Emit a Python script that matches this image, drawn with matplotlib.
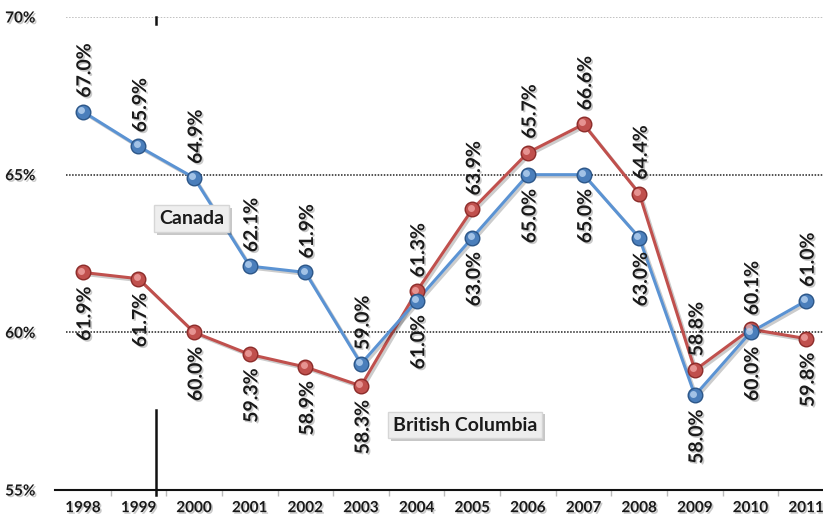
import matplotlib.pyplot as plt
import matplotlib.patheffects as pe
import matplotlib.transforms as mtransforms

plt.rcParams['font.family'] = ['Lato', 'DejaVu Sans']

years = ['1998', '1999', '2000', '2001', '2002', '2003', '2004',
         '2005', '2006', '2007', '2008', '2009', '2010', '2011']
canada = [67.0, 65.9, 64.9, 62.1, 61.9, 59.0, 61.0, 63.0, 65.0, 65.0, 63.0, 58.0, 60.0, 61.0]
bc = [61.9, 61.7, 60.0, 59.3, 58.9, 58.3, 61.3, 63.9, 65.7, 66.6, 64.4, 58.8, 60.1, 59.8]
# +1 = label above the point, -1 = below
canada_side = [1, 1, 1, 1, 1, 1, -1, -1, -1, -1, -1, -1, -1, 1]
bc_side = [-1, -1, -1, -1, -1, -1, 1, 1, 1, 1, 1, 1, 1, -1]
y_ticks = [55, 60, 65, 70]

fig = plt.figure(figsize=(8.23, 5.18), dpi=100)
ax = fig.add_axes([55 / 823, 1 - 490 / 518, 779 / 823, 473 / 518])
ax.set_xlim(-0.5, len(years) - 0.5)
ax.set_ylim(55, 70)

shadow = [pe.SimplePatchShadow(offset=(1.2, -1.2), shadow_rgbFace='#888888', alpha=0.45), pe.Normal()]
wt = 'bold'

# dotted gridlines
for yv in y_ticks[1:]:
    col = '#b0b0b0' if yv == 70 else '#222222'
    ax.hlines(yv, -0.3, len(years) - 0.5, colors=col, linestyles=(0, (1, 1)), linewidth=1.1, zorder=1)

ax.set_yticks(y_ticks)
ax.set_yticklabels([f'{v}%' for v in y_ticks], fontsize=11, fontweight=wt, color='#1a1a1a')
for t in ax.get_yticklabels():
    t.set_path_effects(shadow)
ax.tick_params(axis='y', length=0, pad=14)

x = list(range(len(years)))
ax.set_xticks(x)
ax.set_xticklabels(years, fontsize=11, fontweight=wt, color='#1a1a1a')
for t in ax.get_xticklabels():
    t.set_path_effects(shadow)
ax.tick_params(axis='x', length=0, pad=8)
ax.set_xticks([i + 0.5 for i in x[:-1]], minor=True)
ax.tick_params(axis='x', which='minor', length=4, color='#bbbbbb', width=1)

for s in ['top', 'right', 'left']:
    ax.spines[s].set_visible(False)
ax.spines['bottom'].set_linewidth(1.5)
ax.spines['bottom'].set_color('#111111')

# stray vertical strokes
vx = 1.32
trans = mtransforms.blended_transform_factory(ax.transData, ax.transAxes)
ax.plot([vx, vx], [-0.01, 0.17], color='#111111', lw=1.8, transform=trans, clip_on=False, zorder=5)
ax.plot([vx, vx], [0.985, 1.0], color='#111111', lw=1.8, transform=trans, clip_on=False, zorder=5)

hl = mtransforms.offset_copy(ax.transData, fig=fig, x=-1.8, y=1.8, units='dots')


def draw_series(vals, line_col, dot_col, edge_col, light_col):
    ax.plot(x, vals, color=line_col, lw=2.2, zorder=3,
            path_effects=[pe.SimpleLineShadow(offset=(1.5, -1.5), alpha=0.2), pe.Normal()])
    ax.plot(x, vals, 'o', ms=10.5, mfc=dot_col, mec=edge_col, mew=1.0, zorder=4)
    ax.plot(x, vals, 'o', ms=5, mfc=light_col, mec='none', alpha=0.8, transform=hl, zorder=5)


draw_series(bc, '#c0504d', '#c0504d', '#8c2c2a', '#f0a5a3')
draw_series(canada, '#5b93d3', '#4a7ebb', '#2c5688', '#b9d4f2')

for vals, sides in [(canada, canada_side), (bc, bc_side)]:
    for xi, v, sd in zip(x, vals, sides):
        ax.annotate(f'{v:.1f}%', (xi, v), xytext=(1.5, 10 * sd), textcoords='offset points',
                    rotation=90, ha='center', va='bottom' if sd > 0 else 'top',
                    fontsize=14, fontweight=wt, fontstyle='normal', color='#1a1a1a',
                    path_effects=shadow, zorder=6)

box = dict(boxstyle='square,pad=0.25', fc='#eeeeee', ec='#d6d6d6', lw=1)
for name, bx, by in [('Canada', 1.96, 63.6), ('British Columbia', 6.87, 57.06)]:
    t = ax.text(bx, by, name, ha='center', va='center', fontsize=14, fontweight=wt,
                color='#1a1a1a', bbox=box, zorder=7)
    t.get_bbox_patch().set_path_effects([pe.SimplePatchShadow(offset=(2, -2), alpha=0.3), pe.Normal()])

fig.savefig('out.png', dpi=100)
